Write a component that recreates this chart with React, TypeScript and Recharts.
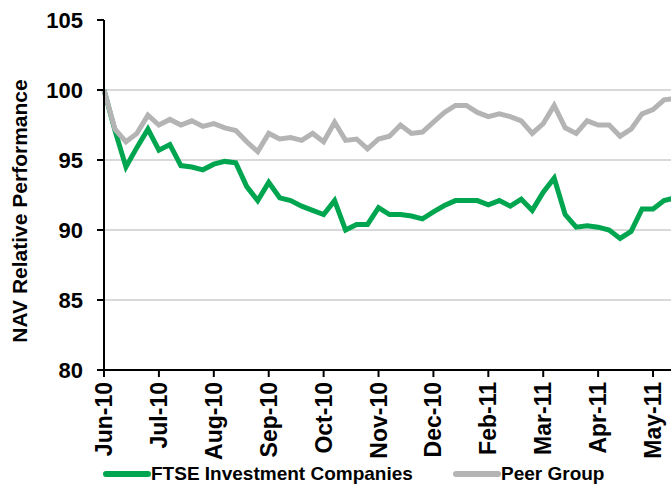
import { CartesianGrid, Legend, Line, LineChart, XAxis, YAxis } from "recharts";

const weeks = [
  "2010-06-04", "2010-06-11", "2010-06-18", "2010-06-25", "2010-07-02", "2010-07-09", "2010-07-16", "2010-07-23",
  "2010-07-30", "2010-08-06", "2010-08-13", "2010-08-20", "2010-08-27", "2010-09-03", "2010-09-10", "2010-09-17",
  "2010-09-24", "2010-10-01", "2010-10-08", "2010-10-15", "2010-10-22", "2010-10-29", "2010-11-05", "2010-11-12",
  "2010-11-19", "2010-11-26", "2010-12-03", "2010-12-10", "2010-12-17", "2010-12-24", "2010-12-31", "2011-01-07",
  "2011-01-14", "2011-01-21", "2011-01-28", "2011-02-04", "2011-02-11", "2011-02-18", "2011-02-25", "2011-03-04",
  "2011-03-11", "2011-03-18", "2011-03-25", "2011-04-01", "2011-04-08", "2011-04-15", "2011-04-22", "2011-04-29",
  "2011-05-06", "2011-05-13", "2011-05-20", "2011-05-27", "2011-06-03"
];

const ftse = [
  100, 97.1, 94.5, 95.9, 97.2, 95.7, 96.1, 94.6, 94.5, 94.3, 94.7, 94.9, 94.8, 93.1, 92.1, 93.4,
  92.3, 92.1, 91.7, 91.4, 91.1, 92.1, 90.0, 90.4, 90.4, 91.6, 91.1, 91.1, 91.0, 90.8, 91.3, 91.75,
  92.1, 92.1, 92.1, 91.8, 92.1, 91.7, 92.2, 91.4, 92.7, 93.7, 91.1, 90.2, 90.3, 90.2, 90.0, 89.4,
  89.9, 91.5, 91.5, 92.1, 92.3
];

const peer = [
  100, 97.2, 96.3, 96.9, 98.2, 97.5, 97.9, 97.5, 97.8, 97.4, 97.6, 97.3, 97.1, 96.3, 95.6, 96.9,
  96.5, 96.6, 96.4, 96.9, 96.3, 97.7, 96.4, 96.5, 95.8, 96.5, 96.7, 97.5, 96.9, 97.0, 97.7, 98.4,
  98.9, 98.9, 98.4, 98.1, 98.3, 98.1, 97.8, 96.9, 97.6, 98.9, 97.3, 96.9, 97.8, 97.5, 97.5, 96.7,
  97.2, 98.3, 98.6, 99.3, 99.4
];

const yTicks = [80, 85, 90, 95, 100, 105];
const months = ["Jan", "Feb", "Mar", "Apr", "May", "Jun", "Jul", "Aug", "Sep", "Oct", "Nov", "Dec"];

const data = weeks.map((week, i) => ({ week, ftse: ftse[i], peer: peer[i] }));

const FONT = "'Liberation Sans', Arial, sans-serif";
const GREEN = "#00a550";
const GREY = "#b4b4b4";

function monthLabel(value: string) {
  const [y, m] = value.split("-");
  return `${months[Number(m) - 1]}-${y.slice(2)}`;
}

function MonthTick({ x, y, payload }: any) {
  return (
    <text
      x={x}
      y={y}
      transform={`rotate(-90, ${x}, ${y})`}
      dx={-3}
      dy={8}
      textAnchor="end"
      fontFamily={FONT}
      fontWeight="bold"
      fontSize={23}
      fill="#000"
    >
      {monthLabel(payload.value)}
    </text>
  );
}

function AxisTitle({ viewBox }: any) {
  const cx = viewBox.x + 19;
  const cy = 211;
  return (
    <text
      x={cx}
      y={cy}
      transform={`rotate(-90, ${cx}, ${cy})`}
      textAnchor="middle"
      dominantBaseline="central"
      fontFamily={FONT}
      fontWeight="bold"
      fontSize={21}
      fill="#000"
    >
      NAV Relative Performance
    </text>
  );
}

function LegendRow() {
  const items = [
    { label: "FTSE Investment Companies", color: GREEN, width: 350 },
    { label: "Peer Group", color: GREY, width: 200 }
  ];
  return (
    <div
      style={{
        display: "flex",
        height: 26,
        paddingLeft: 103,
        fontFamily: FONT,
        fontWeight: "bold",
        fontSize: 19,
        color: "#000",
        whiteSpace: "nowrap"
      }}
    >
      {items.map((item) => (
        <div key={item.label} style={{ display: "flex", alignItems: "center", width: item.width }}>
          <svg width={48} height={10}>
            <line x1={3} y1={5} x2={45} y2={5} stroke={item.color} strokeWidth={6} strokeLinecap="round" />
          </svg>
          <span>{item.label}</span>
        </div>
      ))}
    </div>
  );
}

export default function App() {
  return (
    <div style={{ position: "fixed", left: 0, top: 0, width: 671, height: 487, overflow: "hidden", background: "#fff" }}>
      <LineChart width={680} height={487} data={data} margin={{ top: 20, right: 5, bottom: 0, left: 0 }}>
        <CartesianGrid vertical={false} horizontalValues={[85, 90, 95, 100]} stroke="#d9d9d9" strokeWidth={2} />
        <XAxis
          dataKey="week"
          interval={4}
          tick={<MonthTick />}
          tickSize={7}
          height={91}
          axisLine={{ stroke: "#000", strokeWidth: 2 }}
          tickLine={{ stroke: "#000", strokeWidth: 2 }}
        />
        <YAxis
          domain={[80, 105]}
          ticks={yTicks}
          width={104}
          tickSize={7}
          tickMargin={14}
          axisLine={{ stroke: "#000", strokeWidth: 2 }}
          tickLine={{ stroke: "#000", strokeWidth: 2 }}
          tick={{ fill: "#000", fontFamily: FONT, fontWeight: "bold", fontSize: 22 }}
          label={<AxisTitle />}
        />
        <Legend verticalAlign="bottom" content={() => <LegendRow />} />
        <Line dataKey="ftse" stroke={GREEN} strokeWidth={5} dot={false} isAnimationActive={false} />
        <Line dataKey="peer" stroke={GREY} strokeWidth={5} dot={false} isAnimationActive={false} />
      </LineChart>
    </div>
  );
}
